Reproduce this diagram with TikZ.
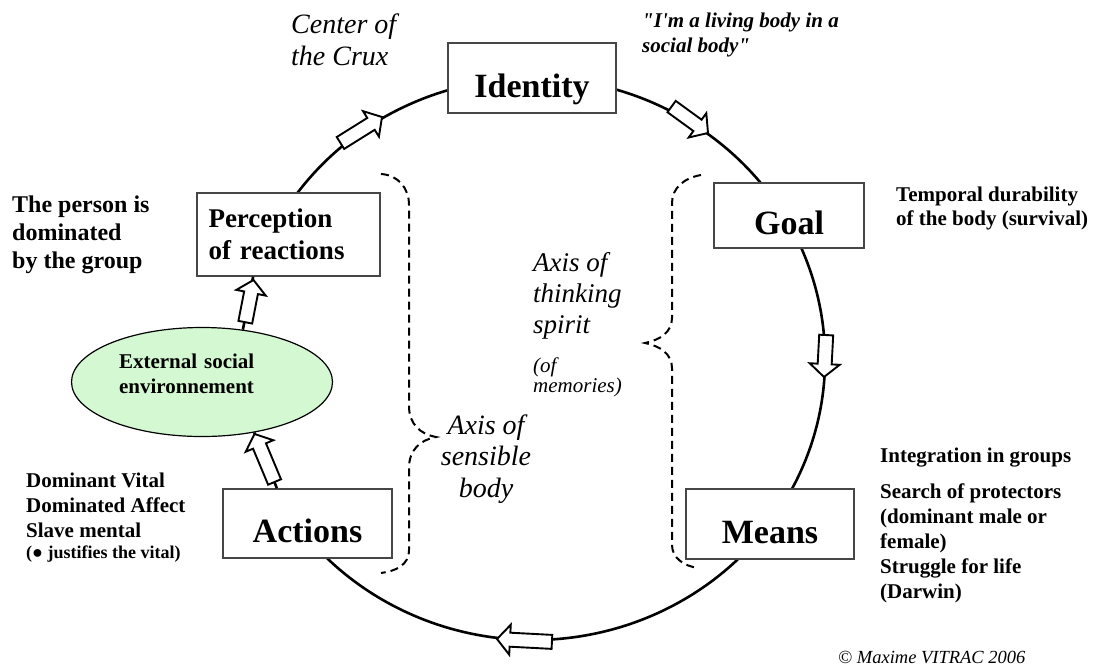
\documentclass[tikz,border=0pt]{standalone}
\usepackage{fontspec}
\setmainfont{Liberation Serif}[Ligatures=TeXOff]
\usetikzlibrary{shapes.geometric}
\definecolor{envgreen}{RGB}{212,248,210}
\definecolor{boxgray}{RGB}{70,70,70}
\begin{document}
\begin{tikzpicture}[x=1pt,y=-1pt,
  ring/.style={line width=2.6pt},
  box/.style={draw=boxgray, line width=1.4pt, fill=white, inner sep=0pt},
  bigbox/.style={box, font=\fontsize{34}{40}\selectfont\bfseries, text height=38pt, text depth=0pt},
  txt/.style={inner sep=0pt, anchor=base west, align=left},
  braceline/.style={line width=2pt, dash pattern=on 8pt off 5pt},
  blen/.store in=\blen, blen=44,
  barrow/.pic={\draw[line width=1.9pt, fill=white, line join=miter]
     (0,0) -- (-13,-15) -- (-13,-7) -- (-\blen,-7) -- (-\blen,7) -- (-13,7) -- (-13,15) -- cycle;}
]
\useasboundingbox (0,0) rectangle (1099,670);

% the cycle
\draw[ring] (533,359) ++(212:292 and 281) arc[start angle=212, end angle=498, x radius=292, y radius=281];

% boxes
\node[bigbox, minimum width=168pt, minimum height=70pt] (ident) at (532,78) {Identity};
\node[bigbox, minimum width=150pt, minimum height=65pt] (goal) at (789,215.5) {Goal};
\node[bigbox, minimum width=168pt, minimum height=70pt] (means) at (770,524) {Means};
\node[bigbox, minimum width=169pt, minimum height=69pt] (act) at (307.5,523.5) {Actions};
\node[box, minimum width=183pt, minimum height=83pt, text width=160pt, align=left,
      font=\fontsize{27}{32}\selectfont\bfseries] (perc) at (288.5,234.5) {Perception\\of reactions};

\node[ellipse, draw, line width=1.2pt, fill=envgreen, minimum width=261pt, minimum height=109pt,
      inner sep=0pt, text width=166pt, align=left, text depth=42pt,
      font=\fontsize{21}{25}\selectfont\bfseries] (env) at (202,382) {External social\\environnement};

% connectors via the environment
\draw[ring] (act.131) -- (env.316);
\draw[ring] (env.52) -- (perc.230);

% block arrows
\pic[rotate=32, blen=49] at (382,117) {barrow};
\pic[rotate=-36, blen=45] at (708,133) {barrow};
\pic[rotate=-93, blen=42] at (824,377) {barrow};
\pic[rotate=177, blen=55] at (497,639) {barrow};
\pic[rotate=79, blen=43] at (253.5,280) {barrow};
\pic[rotate=112.7, blen=52] at (254.5,434) {barrow};

% dashed braces
\draw[braceline] (381,174) .. controls (398,175) and (409,188) .. (409,205) -- (409,406)
   .. controls (409,424) and (420,434) .. (436,437)
   .. controls (420,440) and (409,450) .. (409,468) -- (409,550)
   .. controls (409,565) and (396,571) .. (381,573);
\draw[braceline] (701,175) .. controls (684,178) and (672,188) .. (672,203) -- (672,318)
   .. controls (672,332) and (660,340) .. (645,343)
   .. controls (660,346) and (672,354) .. (672,368) -- (672,545)
   .. controls (672,558) and (684,566) .. (698,568);

% texts (anchored at the baseline of their last line)
\node[txt, font=\fontsize{28}{32}\selectfont\itshape] (crux) at (291,65) {Center of\\the Crux};
\node[txt, font=\fontsize{21}{25}\selectfont\bfseries\itshape] (quote) at (642,52) {"I'm a living body in a\\social body"};
\node[txt, font=\fontsize{24}{28}\selectfont\bfseries] (person) at (12,268) {The person is\\dominated\\by the group};
\node[txt, font=\fontsize{21}{23.5}\selectfont\bfseries] (temporal) at (896,225) {Temporal durability\\of the body (survival)};
\node[txt, font=\fontsize{27}{31}\selectfont\itshape] (thinking) at (533,333) {Axis of\\thinking\\spirit};
\node[txt, font=\fontsize{21}{20}\selectfont\itshape] (memories) at (533,392) {(of\\memories)};
\node[inner sep=0pt, anchor=base, align=center, font=\fontsize{28}{31.5}\selectfont\itshape] (sensible) at (486,497) {Axis of\\sensible\\body};
\node[txt, font=\fontsize{21}{25}\selectfont\bfseries] (vital) at (26,558) {Dominant Vital\\Dominated Affect\\Slave mental\\[-4pt]{\fontsize{18}{21}\selectfont (● justifies the vital)}};
\node[txt, font=\fontsize{21}{24.8}\selectfont\bfseries] (integ) at (880,598) {Integration in groups\\[12pt]Search of protectors\\(dominant male or\\female)\\Struggle for life\\(Darwin)};
\node[txt, font=\fontsize{18.5}{22}\selectfont\itshape] (copy) at (838,663) {© Maxime VITRAC 2006};
\end{tikzpicture}
\end{document}
